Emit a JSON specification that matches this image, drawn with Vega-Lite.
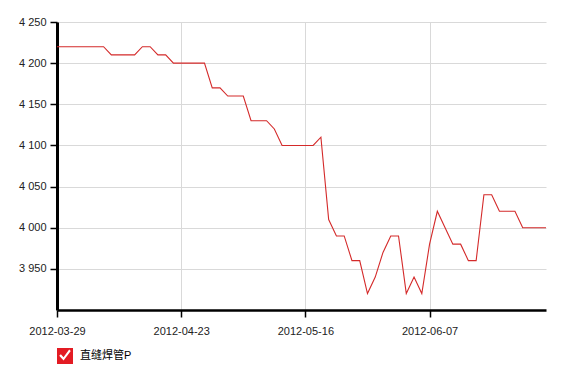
{
  "$schema": "https://vega.github.io/schema/vega-lite/v6.json",
  "width": 489,
  "height": 288,
  "autosize": {"type": "none"},
  "padding": {"left": 57, "top": 22, "right": 23, "bottom": 62},
  "background": "white",
  "config": {
    "view": {"stroke": null},
    "font": "Liberation Sans",
    "axis": {
      "labelFont": "Liberation Sans",
      "labelFontSize": 11,
      "labelColor": "#222222",
      "domainColor": "#000000",
      "domainWidth": 2.5,
      "tickColor": "#000000",
      "tickWidth": 1.5,
      "tickSize": 7,
      "gridColor": "#d9d9d9",
      "gridWidth": 1,
      "title": null
    }
  },
  "data": {
    "values": [
      {"date": "2012-03-29", "price": 4220, "series": "直缝焊管P"},
      {"date": "2012-03-30", "price": 4220, "series": "直缝焊管P"},
      {"date": "2012-03-31", "price": 4220, "series": "直缝焊管P"},
      {"date": "2012-04-01", "price": 4220, "series": "直缝焊管P"},
      {"date": "2012-04-05", "price": 4220, "series": "直缝焊管P"},
      {"date": "2012-04-06", "price": 4220, "series": "直缝焊管P"},
      {"date": "2012-04-09", "price": 4220, "series": "直缝焊管P"},
      {"date": "2012-04-10", "price": 4210, "series": "直缝焊管P"},
      {"date": "2012-04-11", "price": 4210, "series": "直缝焊管P"},
      {"date": "2012-04-12", "price": 4210, "series": "直缝焊管P"},
      {"date": "2012-04-13", "price": 4210, "series": "直缝焊管P"},
      {"date": "2012-04-16", "price": 4220, "series": "直缝焊管P"},
      {"date": "2012-04-17", "price": 4220, "series": "直缝焊管P"},
      {"date": "2012-04-18", "price": 4210, "series": "直缝焊管P"},
      {"date": "2012-04-19", "price": 4210, "series": "直缝焊管P"},
      {"date": "2012-04-20", "price": 4200, "series": "直缝焊管P"},
      {"date": "2012-04-23", "price": 4200, "series": "直缝焊管P"},
      {"date": "2012-04-24", "price": 4200, "series": "直缝焊管P"},
      {"date": "2012-04-25", "price": 4200, "series": "直缝焊管P"},
      {"date": "2012-04-26", "price": 4200, "series": "直缝焊管P"},
      {"date": "2012-04-27", "price": 4170, "series": "直缝焊管P"},
      {"date": "2012-04-28", "price": 4170, "series": "直缝焊管P"},
      {"date": "2012-05-02", "price": 4160, "series": "直缝焊管P"},
      {"date": "2012-05-03", "price": 4160, "series": "直缝焊管P"},
      {"date": "2012-05-04", "price": 4160, "series": "直缝焊管P"},
      {"date": "2012-05-07", "price": 4130, "series": "直缝焊管P"},
      {"date": "2012-05-08", "price": 4130, "series": "直缝焊管P"},
      {"date": "2012-05-09", "price": 4130, "series": "直缝焊管P"},
      {"date": "2012-05-10", "price": 4120, "series": "直缝焊管P"},
      {"date": "2012-05-11", "price": 4100, "series": "直缝焊管P"},
      {"date": "2012-05-14", "price": 4100, "series": "直缝焊管P"},
      {"date": "2012-05-15", "price": 4100, "series": "直缝焊管P"},
      {"date": "2012-05-16", "price": 4100, "series": "直缝焊管P"},
      {"date": "2012-05-17", "price": 4100, "series": "直缝焊管P"},
      {"date": "2012-05-18", "price": 4110, "series": "直缝焊管P"},
      {"date": "2012-05-21", "price": 4010, "series": "直缝焊管P"},
      {"date": "2012-05-22", "price": 3990, "series": "直缝焊管P"},
      {"date": "2012-05-23", "price": 3990, "series": "直缝焊管P"},
      {"date": "2012-05-24", "price": 3960, "series": "直缝焊管P"},
      {"date": "2012-05-25", "price": 3960, "series": "直缝焊管P"},
      {"date": "2012-05-28", "price": 3920, "series": "直缝焊管P"},
      {"date": "2012-05-29", "price": 3940, "series": "直缝焊管P"},
      {"date": "2012-05-30", "price": 3970, "series": "直缝焊管P"},
      {"date": "2012-05-31", "price": 3990, "series": "直缝焊管P"},
      {"date": "2012-06-01", "price": 3990, "series": "直缝焊管P"},
      {"date": "2012-06-04", "price": 3920, "series": "直缝焊管P"},
      {"date": "2012-06-05", "price": 3940, "series": "直缝焊管P"},
      {"date": "2012-06-06", "price": 3920, "series": "直缝焊管P"},
      {"date": "2012-06-07", "price": 3980, "series": "直缝焊管P"},
      {"date": "2012-06-08", "price": 4020, "series": "直缝焊管P"},
      {"date": "2012-06-11", "price": 4000, "series": "直缝焊管P"},
      {"date": "2012-06-12", "price": 3980, "series": "直缝焊管P"},
      {"date": "2012-06-13", "price": 3980, "series": "直缝焊管P"},
      {"date": "2012-06-14", "price": 3960, "series": "直缝焊管P"},
      {"date": "2012-06-15", "price": 3960, "series": "直缝焊管P"},
      {"date": "2012-06-18", "price": 4040, "series": "直缝焊管P"},
      {"date": "2012-06-19", "price": 4040, "series": "直缝焊管P"},
      {"date": "2012-06-20", "price": 4020, "series": "直缝焊管P"},
      {"date": "2012-06-21", "price": 4020, "series": "直缝焊管P"},
      {"date": "2012-06-25", "price": 4020, "series": "直缝焊管P"},
      {"date": "2012-06-26", "price": 4000, "series": "直缝焊管P"},
      {"date": "2012-06-27", "price": 4000, "series": "直缝焊管P"},
      {"date": "2012-06-28", "price": 4000, "series": "直缝焊管P"},
      {"date": "2012-06-29", "price": 4000, "series": "直缝焊管P"}
    ]
  },
  "mark": {"type": "line", "strokeWidth": 1.1, "interpolate": "linear"},
  "encoding": {
    "x": {
      "field": "date",
      "type": "ordinal",
      "sort": null,
      "scale": {"type": "point", "padding": 0},
      "axis": {
        "values": ["2012-03-29", "2012-04-23", "2012-05-16", "2012-06-07"],
        "labelAngle": 0,
        "labelPadding": 8,
        "grid": true,
        "domainWidth": 2.5
      }
    },
    "y": {
      "field": "price",
      "type": "quantitative",
      "scale": {"domain": [3900, 4250], "nice": false, "zero": false},
      "axis": {
        "values": [3950, 4000, 4050, 4100, 4150, 4200, 4250],
        "labelExpr": "replace(format(datum.value, ','), ',', ' ')",
        "labelPadding": 4,
        "grid": true,
        "domainWidth": 3
      }
    },
    "color": {
      "field": "series",
      "type": "nominal",
      "scale": {"range": ["#d42a2a"]},
      "legend": {
        "title": null,
        "orient": "none",
        "legendX": 0,
        "legendY": 326,
        "padding": 0,
        "symbolType": "M-1,-1H1V1H-1Z M-0.72,-0.02 L-0.18,0.55 L0.72,-0.62 L0.52,-0.8 L-0.18,0.15 L-0.52,-0.22 Z",
        "symbolSize": 256,
        "labelFont": "Liberation Sans, Noto Sans CJK SC",
        "labelFontSize": 11,
        "labelColor": "#000000",
        "labelOffset": 7,
        "encode": {
          "symbols": {
            "update": {
              "fill": {"value": "#e31b23"},
              "stroke": {"value": "transparent"},
              "strokeWidth": {"value": 0},
              "opacity": {"value": 1}
            }
          }
        }
      }
    }
  }
}
